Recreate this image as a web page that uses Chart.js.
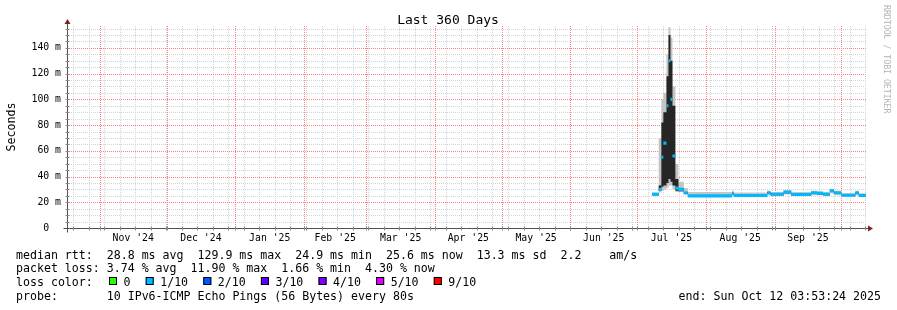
<!DOCTYPE html>
<html>
<head>
<meta charset="utf-8">
<title>Last 360 Days</title>
<script src="https://cdn.jsdelivr.net/npm/chart.js@4.4.1/dist/chart.umd.min.js"></script>
<style>
  html, body { margin: 0; padding: 0; background: #ffffff; }
  canvas { display: block; }
</style>
</head>
<body>
<canvas id="rrd" width="897" height="310"></canvas>
<script>
// x = days since start of the window (Oct 17 2024 03:53:24), y = milliseconds
const days    = [263.6, 266.6, 267.8, 268.7, 270.1, 271.0, 271.9, 272.8, 274.1, 275.5, 277.9, 279.7, 299.7, 300.4, 315.5, 317.0, 322.9, 326.3, 335.3, 338.0, 340.7, 343.7, 345.5, 348.8, 355.2, 356.7, 360.0];
const median  = [26.2, 30.0, 55.0, 66.0, 95.0, 130.0, 100.0, 56.0, 31.0, 30.0, 27.4, 25.0, 27.0, 25.2, 27.4, 26.2, 28.0, 26.0, 27.4, 27.0, 26.2, 29.0, 27.4, 25.4, 27.4, 25.2, 25.2];
const smokeLo = [25.0, 27.5, 29.0, 30.0, 31.0, 33.0, 33.0, 30.0, 28.0, 28.0, 26.0, 24.5, 25.5, 24.5, 25.5, 25.0, 26.0, 25.0, 25.5, 25.5, 25.0, 27.0, 25.5, 24.5, 25.5, 24.5, 24.5];
const smokeHi = [27.5, 70.0, 100.0, 105.0, 135.0, 156.0, 148.0, 110.0, 50.0, 36.0, 31.0, 28.0, 29.0, 27.5, 29.0, 28.0, 29.5, 28.0, 29.0, 28.5, 28.0, 30.5, 29.0, 27.0, 29.0, 27.0, 27.0];
const coreLo  = [25.5, 29.0, 32.0, 33.0, 35.0, 38.0, 36.0, 33.0, 29.0, 28.5, 26.5, 24.8, 26.0, 24.8, 26.5, 25.5, 27.0, 25.5, 26.5, 26.0, 25.5, 28.0, 26.5, 25.0, 26.5, 25.0, 25.0];
const coreHi  = [26.8, 33.0, 82.0, 90.0, 118.0, 150.0, 130.0, 95.0, 38.0, 31.0, 28.0, 25.5, 27.5, 25.5, 28.0, 26.5, 28.5, 26.5, 27.8, 27.2, 26.5, 29.5, 27.8, 25.8, 27.8, 25.5, 25.5];

// month boundaries (days) and labels placed between them
const monthStarts = [14.84, 44.84, 75.84, 106.84, 134.84, 165.84, 195.84, 226.84, 256.84, 287.84, 318.84, 348.84];
const monthLabels = ["Nov '24", "Dec '24", "Jan '25", "Feb '25", "Mar '25", "Apr '25", "May '25", "Jun '25", "Jul '25", "Aug '25", "Sep '25"];
const firstWeek = 2.7;

const yTicks  = [0, 20, 40, 60, 80, 100, 120, 140];
const yLabels = ['0  ', '20 m', '40 m', '60 m', '80 m', '100 m', '120 m', '140 m'];

const lossLabels = ['0', '1/10', '2/10', '3/10', '4/10', '5/10', '9/10'];
const lossColors = ['#26ff00', '#00b8ff', '#0059ff', '#5e00ff', '#7e00ff', '#dd00ff', '#ff0000'];

const legendRtt  = 'median rtt:  28.8 ms avg  129.9 ms max  24.9 ms min  25.6 ms now  13.3 ms sd  2.2    am/s';
const legendLoss = 'packet loss: 3.74 % avg  11.90 % max  1.66 % min  4.30 % now';
const legendProbe = 'probe:       10 IPv6-ICMP Echo Pings (56 Bytes) every 80s';
const legendEnd  = 'end: Sun Oct 12 03:53:24 2025';

const MONO = "'DejaVu Sans Mono', monospace";
const HALF_LINE = 1.2; // half thickness of the median band (ms)

function series(values) {
  return days.map((d, i) => ({ x: d, y: values[i] }));
}

function band(values, color, fillTarget, order) {
  return {
    data: series(values),
    borderColor: 'rgba(0,0,0,0)',
    borderWidth: 0,
    backgroundColor: color,
    fill: fillTarget,
    stepped: 'before',
    pointRadius: 0,
    order: order
  };
}

// dotted line, one pixel on / one off, drawn as tiny rects so the colour stays exact
function dotted(ctx, x1, y1, x2, y2) {
  if (x1 === x2) {
    for (let y = Math.round(y2); y <= y1; y += 2) ctx.fillRect(x1, y, 1, 1);
  } else {
    for (let x = Math.round(x1); x <= x2; x += 2) ctx.fillRect(x, y1, 1, 1);
  }
}

/**
 * rrdtool-like grid, axes, arrows and text
 */
const rrdFrame = {
  id: 'rrdFrame',
  beforeDraw(chart) {
    const ctx = chart.ctx;
    ctx.save();
    ctx.fillStyle = '#ffffff';
    ctx.fillRect(0, 0, chart.width, chart.height);
    ctx.restore();
  },
  beforeDatasetsDraw(chart) {
    const ctx = chart.ctx;
    const xs = chart.scales.x, ys = chart.scales.y;
    const a = chart.chartArea;
    const top = Math.round(a.top), bottom = Math.round(a.bottom);
    ctx.save();

    // minor grid (weeks / 5 ms)
    ctx.fillStyle = '#d4d4d4';
    for (let d = firstWeek; d < 360; d += 7) {
      dotted(ctx, Math.round(xs.getPixelForValue(d)), bottom, Math.round(xs.getPixelForValue(d)), top);
    }
    for (let v = 5; v <= ys.max; v += 5) {
      if (v % 20 === 0) continue;
      const py = Math.round(ys.getPixelForValue(v));
      dotted(ctx, a.left, py, a.right, py);
    }

    // major grid (months / 20 ms)
    ctx.fillStyle = '#ff8080';
    monthStarts.forEach(d => {
      const px = Math.round(xs.getPixelForValue(d));
      dotted(ctx, px, bottom, px, top);
    });
    yTicks.slice(1).forEach(v => {
      const py = Math.round(ys.getPixelForValue(v));
      dotted(ctx, a.left, py, a.right, py);
    });
    ctx.restore();
  },
  afterDatasetsDraw(chart) {
    const ctx = chart.ctx;
    const xs = chart.scales.x, ys = chart.scales.y;
    const a = chart.chartArea;
    const x0 = Math.round(a.left) + 0.5;
    const y0 = Math.round(a.bottom) + 0.5;
    ctx.save();

    // axes with small ticks
    ctx.strokeStyle = '#505050';
    ctx.lineWidth = 1;
    ctx.beginPath();
    ctx.moveTo(x0 - 4, y0); ctx.lineTo(a.right + 4, y0);
    ctx.moveTo(x0, y0 + 4); ctx.lineTo(x0, a.top - 3);
    ctx.stroke();
    ctx.strokeStyle = '#8a8a8a';
    ctx.beginPath();
    for (let v = 5; v <= ys.max; v += 5) {
      const py = Math.round(ys.getPixelForValue(v)) + 0.5;
      ctx.moveTo(x0 - 2, py); ctx.lineTo(x0 + 2, py);
    }
    for (let d = firstWeek; d < 360; d += 7) {
      const px = Math.round(xs.getPixelForValue(d)) + 0.5;
      ctx.moveTo(px, y0 - 2); ctx.lineTo(px, y0 + 2);
    }
    monthStarts.forEach(d => {
      const px = Math.round(xs.getPixelForValue(d)) + 0.5;
      ctx.moveTo(px, y0 - 2); ctx.lineTo(px, y0 + 2);
    });
    ctx.stroke();

    // arrows
    ctx.fillStyle = '#7f1f1f';
    ctx.beginPath();
    ctx.moveTo(x0 - 3, a.top - 2); ctx.lineTo(x0 + 3, a.top - 2); ctx.lineTo(x0, a.top - 7); ctx.closePath();
    ctx.fill();
    ctx.beginPath();
    ctx.moveTo(a.right + 2, y0 - 3); ctx.lineTo(a.right + 2, y0 + 3); ctx.lineTo(a.right + 7, y0); ctx.closePath();
    ctx.fill();

    // axis labels
    ctx.fillStyle = '#000000';
    ctx.font = '9.8px ' + MONO;
    ctx.textAlign = 'right';
    ctx.textBaseline = 'middle';
    yTicks.forEach((v, i) => {
      ctx.fillText(yLabels[i], a.left - 6, ys.getPixelForValue(v));
    });
    ctx.textAlign = 'center';
    ctx.textBaseline = 'alphabetic';
    monthLabels.forEach((lab, i) => {
      const mid = (xs.getPixelForValue(monthStarts[i]) + xs.getPixelForValue(monthStarts[i + 1])) / 2;
      ctx.fillText(lab, mid, 241);
    });

    // title and y axis title
    ctx.font = '13px ' + MONO;
    ctx.fillText('Last 360 Days', 448, 24);
    ctx.save();
    ctx.font = '11.6px ' + MONO;
    ctx.translate(12, 127);
    ctx.rotate(-Math.PI / 2);
    ctx.textBaseline = 'middle';
    ctx.fillText('Seconds', 0, 0);
    ctx.restore();

    // watermark
    ctx.save();
    ctx.fillStyle = '#b4b4b4';
    ctx.font = '8.2px ' + MONO;
    ctx.translate(886, 5);
    ctx.rotate(Math.PI / 2);
    ctx.textAlign = 'left';
    ctx.textBaseline = 'middle';
    ctx.fillText('RRDTOOL / TOBI OETIKER', 0, 0);
    ctx.restore();

    // legend
    ctx.font = '11.6px ' + MONO;
    ctx.textAlign = 'left';
    ctx.fillText(legendRtt, 16, 259);
    ctx.fillText(legendLoss, 16, 272);
    ctx.fillText('loss color:', 16, 286);
    ctx.fillText(legendProbe, 16, 300);
    ctx.textAlign = 'right';
    ctx.fillText(legendEnd, 881, 300);
    ctx.textAlign = 'left';
    let lx = 109;
    lossLabels.forEach((lab, i) => {
      ctx.fillStyle = lossColors[i];
      ctx.fillRect(lx, 277, 8, 8);
      ctx.strokeStyle = '#000000';
      ctx.strokeRect(lx + 0.5, 277.5, 7, 7);
      ctx.fillStyle = '#000000';
      ctx.fillText(lab, lx + 14.5, 286);
      lx += 14.5 + ctx.measureText(lab).width + 15.2;
    });
    ctx.restore();
  }
};

const medLo = median.map(v => v - HALF_LINE);
const medHi = median.map(v => v + HALF_LINE);

new Chart(document.getElementById('rrd').getContext('2d'), {
  type: 'line',
  data: {
    datasets: [
      band(medHi, '#00b8ff', 1, 1),
      band(medLo, 'rgba(0,0,0,0)', false, 1),
      band(coreHi, '#262626', 3, 2),
      band(coreLo, 'rgba(0,0,0,0)', false, 2),
      band(smokeHi, '#c4c4c4', 5, 3),
      band(smokeLo, 'rgba(0,0,0,0)', false, 3)
    ]
  },
  options: {
    responsive: false,
    animation: false,
    devicePixelRatio: 1,
    layout: { padding: { left: 67, right: 31, top: 26, bottom: 82 } },
    plugins: { legend: { display: false }, tooltip: { enabled: false } },
    scales: {
      x: { type: 'linear', min: 0, max: 360, display: false },
      y: { type: 'linear', min: 0, max: 157, display: false }
    }
  },
  plugins: [rrdFrame]
});
</script>
</body>
</html>
